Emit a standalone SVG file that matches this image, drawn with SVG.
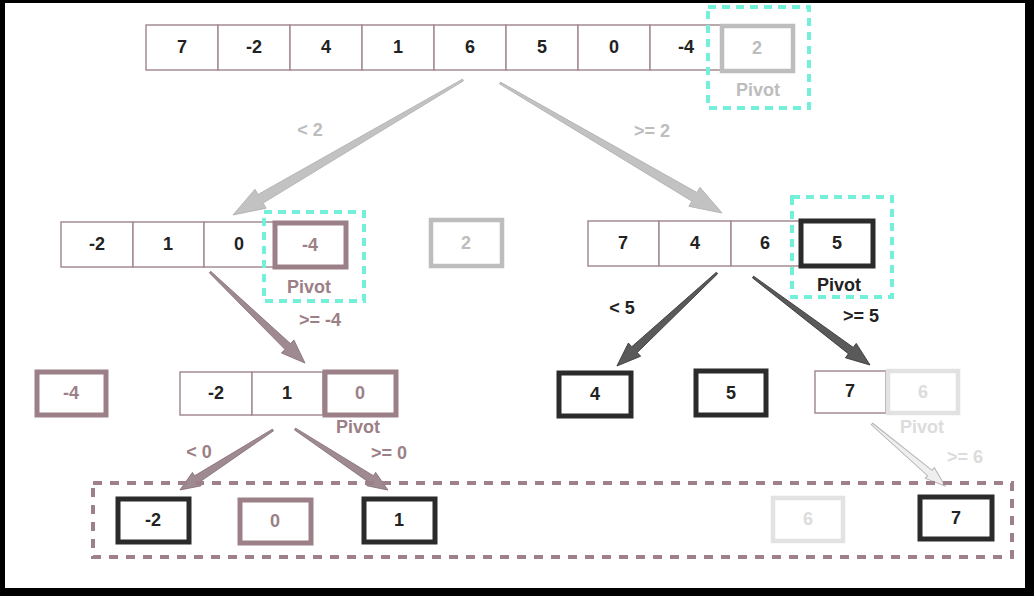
<svg xmlns="http://www.w3.org/2000/svg" width="1034" height="596" viewBox="0 0 1034 596">
<style>
text{font-family:"Liberation Sans",Arial,sans-serif;font-weight:bold;font-size:18px;text-anchor:middle;dominant-baseline:central}
.cell{fill:#fff;stroke:#a58c93;stroke-width:1.5}
.pg{fill:#fff;stroke:#bdbdbd;stroke-width:4.5}
.pm{fill:#fff;stroke:#9c8087;stroke-width:5}
.pd{fill:#fff;stroke:#2b2b2b;stroke-width:5}
.pl{fill:#fff;stroke:#e2e2e2;stroke-width:4.5}
.cyan{fill:none;stroke:#72f0d9;stroke-width:4;stroke-dasharray:8 6}
.mdash{fill:none;stroke:#9e8088;stroke-width:4;stroke-dasharray:9 8}
.tk{fill:#222}
.tg{fill:#bdbdbd}
.tm{fill:#9c8087}
.tl{fill:#dcdcdc}
.ag{fill:#c2c2c2;stroke:#b0b0b0;stroke-width:0.8}
.am{fill:#9e8a90;stroke:#86707a;stroke-width:0.8}
.ad{fill:#5a5a5a;stroke:#333;stroke-width:0.8}
.al{fill:#efefef;stroke:#b5b5b5;stroke-width:1}
</style>
<rect x="0" y="0" width="1034" height="596" fill="#000"/>
<rect x="5" y="3" width="1020" height="585" fill="#fff"/>

<g id="connectors">
<path class="ag" transform="translate(463,80) rotate(149.6)" d="M0,-1 L234.7,-5 L234.7,-11 L266.7,0 L234.7,11 L234.7,5 L0,1 Z"/>
<path class="ag" transform="translate(500,83) rotate(30.35)" d="M0,-1 L225.3,-5 L225.3,-11 L257.3,0 L225.3,11 L225.3,5 L0,1 Z"/>
<path class="am" transform="translate(210,272) rotate(43.8)" d="M0,-1 L107.6,-4 L107.6,-9 L131.6,0 L107.6,9 L107.6,4 L0,1 Z"/>
<path class="ad" transform="translate(717,273) rotate(137.1)" d="M0,-1 L112.6,-4 L112.6,-9 L136.6,0 L112.6,9 L112.6,4 L0,1 Z"/>
<path class="ad" transform="translate(753,277) rotate(36.95)" d="M0,-1 L122.4,-4 L122.4,-9 L146.4,0 L122.4,9 L122.4,4 L0,1 Z"/>
<path class="am" transform="translate(273,430) rotate(147.2)" d="M0,-1 L90.7,-4 L90.7,-8 L110.7,0 L90.7,8 L90.7,4 L0,1 Z"/>
<path class="am" transform="translate(295,429) rotate(33.3)" d="M0,-1 L91.2,-4 L91.2,-8 L111.2,0 L91.2,8 L91.2,4 L0,1 Z"/>
<path class="al" transform="translate(872,424) rotate(40.3)" d="M0,-1 L75.8,-3.5 L75.8,-7 L95.8,0 L75.8,7 L75.8,3.5 L0,1 Z"/>
<text class="tg" x="310" y="130">&lt; 2</text>
<text class="tg" x="652" y="131">&gt;= 2</text>
<text class="tm" x="320" y="320">&gt;= -4</text>
<text class="tk" x="622" y="308">&lt; 5</text>
<text class="tk" x="861" y="316">&gt;= 5</text>
<text class="tm" x="199" y="452">&lt; 0</text>
<text class="tm" x="389" y="453">&gt;= 0</text>
<text class="tl" x="965" y="457">&gt;= 6</text>
</g>

<g id="row0">
<rect class="cell" x="146" y="25" width="72" height="45"/><text class="tk" x="182" y="47">7</text>
<rect class="cell" x="218" y="25" width="72" height="45"/><text class="tk" x="254" y="47">-2</text>
<rect class="cell" x="290" y="25" width="72" height="45"/><text class="tk" x="326" y="47">4</text>
<rect class="cell" x="362" y="25" width="72" height="45"/><text class="tk" x="398" y="47">1</text>
<rect class="cell" x="434" y="25" width="72" height="45"/><text class="tk" x="470" y="47">6</text>
<rect class="cell" x="506" y="25" width="72" height="45"/><text class="tk" x="542" y="47">5</text>
<rect class="cell" x="578" y="25" width="72" height="45"/><text class="tk" x="614" y="47">0</text>
<rect class="cell" x="650" y="25" width="72" height="45"/><text class="tk" x="686" y="47">-4</text>
</g>
<g id="pivot0">
<rect class="cyan" x="708" y="7" width="101" height="101"/>
<rect class="pg" x="722" y="26" width="71" height="45"/><text class="tg" x="757" y="48">2</text>
<text class="tg" x="758" y="90">Pivot</text>
</g>

<g id="row1left">
<rect class="cell" x="61" y="222" width="72" height="45"/><text class="tk" x="97" y="244">-2</text>
<rect class="cell" x="133" y="222" width="71" height="45"/><text class="tk" x="168" y="244">1</text>
<rect class="cell" x="204" y="222" width="70" height="45"/><text class="tk" x="239" y="244">0</text>
</g>
<g id="pivot1left">
<rect class="cyan" x="264" y="212" width="100" height="89"/>
<rect class="pm" x="275" y="223" width="71" height="44"/><text class="tm" x="310" y="245">-4</text>
<text class="tm" x="309" y="287">Pivot</text>
</g>
<g id="pivot0done">
<rect class="pg" x="431" y="220" width="71" height="46"/><text class="tg" x="466" y="243">2</text>
</g>

<g id="row1right">
<rect class="cell" x="588" y="221" width="71" height="45"/><text class="tk" x="623" y="243">7</text>
<rect class="cell" x="659" y="221" width="72" height="45"/><text class="tk" x="695" y="243">4</text>
<rect class="cell" x="731" y="221" width="69" height="45"/><text class="tk" x="765" y="243">6</text>
</g>
<g id="pivot1right">
<rect class="cyan" x="792" y="197" width="100" height="100"/>
<rect class="pd" x="801" y="221" width="72" height="45"/><text class="tk" x="837" y="243">5</text>
<text class="tk" x="839" y="285">Pivot</text>
</g>

<g id="pivot1leftdone">
<rect class="pm" x="37" y="372" width="69" height="43"/><text class="tm" x="71" y="393">-4</text>
</g>
<g id="row2left">
<rect class="cell" x="180" y="372" width="72" height="43"/><text class="tk" x="216" y="393">-2</text>
<rect class="cell" x="252" y="372" width="71" height="43"/><text class="tk" x="287" y="393">1</text>
</g>
<g id="pivot2left">
<rect class="pm" x="325" y="372" width="71" height="43" stroke="#8a6e76"/><text class="tm" x="360" y="393">0</text>
<text class="tm" x="358" y="427">Pivot</text>
</g>

<g id="leaf4">
<rect class="pd" x="559" y="373" width="72" height="43"/><text class="tk" x="595" y="394">4</text>
</g>
<g id="pivot1rightdone">
<rect class="pd" x="696" y="371" width="70" height="44"/><text class="tk" x="731" y="393">5</text>
</g>
<g id="row2right">
<rect class="cell" x="815" y="371" width="71" height="42"/><text class="tk" x="850" y="391">7</text>
</g>
<g id="pivot2right">
<rect class="pl" x="888" y="371" width="70" height="42"/><text class="tl" x="923" y="392">6</text>
<text class="tl" x="922" y="427">Pivot</text>
</g>

<g id="result">
<rect class="mdash" x="93" y="483" width="919" height="74"/>
<rect class="pd" x="118" y="499" width="71" height="43"/><text class="tk" x="153" y="520">-2</text>
<rect class="pm" x="240" y="500" width="71" height="43" stroke-width="4"/><text class="tm" x="275" y="521">0</text>
<rect class="pd" x="364" y="499" width="71" height="43"/><text class="tk" x="399" y="520">1</text>
<rect class="pl" x="773" y="498" width="70" height="43"/><text class="tl" x="808" y="519">6</text>
<rect class="pd" x="920" y="497" width="72" height="42"/><text class="tk" x="956" y="518">7</text>
</g>
</svg>
